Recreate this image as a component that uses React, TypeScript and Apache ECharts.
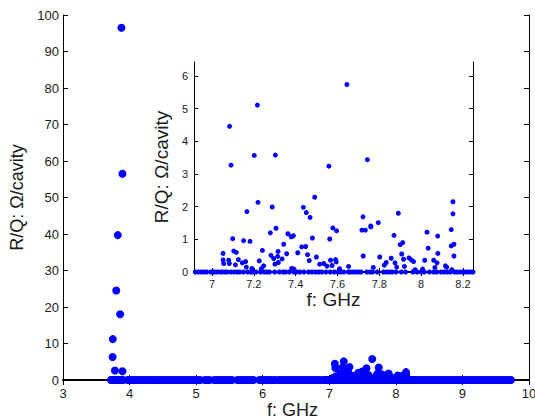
import React, { useEffect, useRef } from "react";
import * as echarts from "echarts";

// ---- data ----
const lowBandPeaks: [number, number][] = [
  [3.748, 11.2], [3.745, 6.3], [3.78, 2.6], [3.8, 24.5], [3.823, 39.7],
  [3.858, 18.0], [3.878, 96.5], [3.893, 56.5], [3.893, 2.4],
];

const lowBandZeroFreqs: number[] = [
  3.72, 3.73, 3.75, 3.76, 3.78, 3.79, 3.81, 3.83, 3.84, 3.86, 3.87, 3.89, 3.9,
];

const mainZeroFreqs: number[] = [
  3.97, 4.0, 4.03, 4.06, 4.09, 4.12, 4.15, 4.19, 4.22, 4.25, 4.28, 4.31, 4.35, 4.38, 4.41, 4.44,
  4.48, 4.51, 4.54, 4.57, 4.61, 4.64, 4.67, 4.7, 4.74, 4.77, 4.8, 4.83, 4.87, 4.9, 4.93, 4.96,
  5.0, 5.03, 5.06, 5.13, 5.17, 5.2, 5.27, 5.3, 5.33, 5.37, 5.4, 5.44, 5.47, 5.51, 5.54, 5.62,
  5.65, 5.69, 5.72, 5.76, 5.79, 5.83, 5.86, 5.95, 5.98, 6.02, 6.05, 6.09, 6.12, 6.16, 6.19,
  6.24, 6.27, 6.31, 6.35, 6.38, 6.42, 6.45, 6.49, 6.52, 6.56, 6.59, 6.63, 6.66, 6.7, 6.73,
  6.77, 6.8, 6.84, 6.87,
  8.28, 8.31, 8.35, 8.38, 8.42, 8.45, 8.49, 8.52, 8.56, 8.59, 8.63, 8.66, 8.7, 8.73, 8.77,
  8.8, 8.84, 8.87, 8.91, 8.94, 8.98, 9.01, 9.05, 9.08, 9.12, 9.15, 9.19, 9.22, 9.26, 9.29,
  9.33, 9.36, 9.4, 9.43, 9.47, 9.5, 9.54, 9.57, 9.61, 9.64, 9.68, 9.71, 9.73,
];

const clusterZeroFreqs: number[] = [
  6.92, 6.935, 6.95, 6.962, 6.975, 6.995, 7.005, 7.012, 7.025, 7.04, 7.05, 7.062, 7.072, 7.09,
  7.105, 7.12, 7.132, 7.15, 7.17, 7.185, 7.195, 7.21, 7.232, 7.25, 7.262, 7.275, 7.3, 7.322,
  7.34, 7.352, 7.37, 7.392, 7.405, 7.42, 7.44, 7.462, 7.478, 7.495, 7.51, 7.525, 7.545, 7.565,
  7.585, 7.602, 7.615, 7.63, 7.652, 7.662, 7.675, 7.688, 7.7, 7.712, 7.74, 7.755, 7.768, 7.79,
  7.82, 7.835, 7.848, 7.862, 7.88, 7.905, 7.925, 7.96, 7.98, 8.0, 8.015, 8.04, 8.06, 8.075,
  8.095, 8.11, 8.125, 8.14, 8.16, 8.172, 8.185, 8.198, 8.21, 8.222, 8.235, 8.248,
];

const clusterModes: [number, number][] = [
  [7.084, 4.46], [7.091, 3.27], [7.099, 1.02], [7.053, 0.57], [7.053, 0.37], [7.056, 0.26],
  [7.08, 0.36], [7.083, 0.26], [7.104, 0.64], [7.116, 0.6], [7.112, 0.22], [7.126, 0.38],
  [7.145, 0.28], [7.151, 0.96], [7.161, 0.32], [7.167, 1.85], [7.182, 0.94], [7.164, 0.15],
  [7.191, 0.11], [7.202, 3.57], [7.217, 5.11], [7.22, 2.13], [7.226, 0.34], [7.241, 0.66],
  [7.236, 0.1], [7.247, 0.19], [7.279, 1.2], [7.288, 1.99], [7.282, 0.51], [7.295, 0.41],
  [7.306, 1.34], [7.303, 3.58], [7.314, 0.48], [7.316, 0.63], [7.317, 0.29], [7.301, 0.24],
  [7.335, 0.4], [7.343, 0.85], [7.357, 0.56], [7.363, 1.17], [7.379, 1.08], [7.389, 1.11],
  [7.381, 0.11], [7.392, 0.09], [7.41, 0.59], [7.429, 0.77], [7.437, 1.98], [7.448, 0.78],
  [7.451, 1.82], [7.457, 0.53], [7.465, 0.35], [7.469, 1.67], [7.48, 1.04], [7.491, 2.29],
  [7.499, 0.46], [7.515, 0.24], [7.534, 0.26], [7.55, 0.18], [7.559, 3.24], [7.563, 1.01],
  [7.567, 0.36], [7.578, 1.35], [7.596, 1.26], [7.591, 0.38], [7.594, 0.31], [7.574, 0.2],
  [7.61, 0.1], [7.645, 5.74], [7.653, 0.17], [7.717, 1.28], [7.722, 1.69], [7.723, 0.49],
  [7.733, 1.28], [7.743, 3.44], [7.759, 1.41], [7.76, 1.38], [7.771, 0.14], [7.795, 1.51],
  [7.802, 0.46], [7.824, 0.21], [7.833, 0.29], [7.857, 0.42], [7.87, 1.12], [7.875, 0.28],
  [7.883, 0.15], [7.891, 1.8], [7.9, 0.84], [7.907, 0.55], [7.912, 0.9], [7.916, 0.39],
  [7.92, 0.17], [7.942, 0.43], [7.953, 0.37], [7.964, 0.32], [7.971, 0.07], [8.007, 0.09],
  [8.017, 0.36], [8.028, 1.22], [8.034, 0.73], [8.06, 0.36], [8.066, 0.14], [8.076, 0.28],
  [8.079, 1.1], [8.08, 0.57], [8.116, 0.19], [8.122, 0.15], [8.144, 1.3], [8.152, 2.15],
  [8.152, 1.78], [8.144, 0.8], [8.157, 0.85], [8.157, 0.49], [8.147, 0.07],
];

const insetXTicks: number[] = [7, 7.2, 7.4, 7.6, 7.8, 8, 8.2];
const insetYTicks: number[] = [0, 1, 2, 3, 4, 5, 6];

const FONT = "Liberation Sans, Arial, Helvetica, sans-serif";
const BLUE = "#0000ff";
const TXT = "#1a1a1a";

export default function App() {
  const ref = useRef<HTMLDivElement>(null);
  useEffect(() => {
    if (!ref.current) return;
    const chart = echarts.init(ref.current, null, { renderer: "svg" });

    const clusterAll: [number, number][] = [
      ...clusterModes,
      ...clusterZeroFreqs.map((f) => [f, 0] as [number, number]),
    ];
    const mainAll: [number, number][] = [
      ...lowBandPeaks,
      ...lowBandZeroFreqs.map((f) => [f, 0] as [number, number]),
      ...mainZeroFreqs.map((f) => [f, 0] as [number, number]),
      ...clusterAll,
    ];

    const line = (w = 1) => ({ show: true, lineStyle: { color: "#000", width: w } });
    const tickIn = (len: number) => ({ show: true, inside: true, length: len, lineStyle: { color: "#000", width: 1 } });

    const mainX = { min: 3, max: 10, interval: 1 };
    const mainY = { min: 0, max: 100, interval: 10 };
    const insX = { min: 6.914, max: 8.248 };
    const insY = { min: 0, max: 6.43 };

    chart.setOption({
      animation: false,
      backgroundColor: "#fff",
      textStyle: { fontFamily: FONT },
      grid: [
        { left: 63, top: 15, right: 6, bottom: 40, show: false, containLabel: false, outerBoundsMode: "none" },
        {
          left: 194, top: 62, right: 62, bottom: 148, show: true, backgroundColor: "#fff", borderWidth: 0, z: 5,
          containLabel: false, outerBoundsMode: "none",
        },
      ],
      xAxis: [
        {
          type: "value", gridIndex: 0, ...mainX, position: "bottom",
          axisLine: line(2), axisTick: tickIn(5), splitLine: { show: false },
          axisLabel: { color: TXT, fontSize: 13, margin: 7, fontFamily: FONT },
          name: "f: GHz", nameLocation: "middle", nameGap: 21, nameMoveOverlap: false,
          nameTextStyle: { color: TXT, fontSize: 18, fontFamily: FONT, padding: [0, 7, 0, 0] },
        },
        {
          type: "value", gridIndex: 0, ...mainX, position: "top",
          axisLine: line(1), axisTick: tickIn(5), splitLine: { show: false }, axisLabel: { show: false },
        },
        {
          type: "value", gridIndex: 1, ...insX, position: "bottom", z: 6,
          axisLine: line(2), splitLine: { show: false },
          axisTick: { ...tickIn(4), customValues: insetXTicks },
          axisLabel: {
            color: TXT, fontSize: 11, margin: 6, fontFamily: FONT, customValues: insetXTicks,
            formatter: (v: number) => String(Number(v.toFixed(1))),
          },
          name: "f: GHz", nameLocation: "middle", nameGap: 16,
          nameTextStyle: { color: TXT, fontSize: 19, fontFamily: FONT },
        },
        {
          type: "value", gridIndex: 1, ...insX, position: "top", z: 6,
          axisLine: line(1), splitLine: { show: false }, axisLabel: { show: false },
          axisTick: { ...tickIn(4), customValues: insetXTicks },
        },
      ],
      yAxis: [
        {
          type: "value", gridIndex: 0, ...mainY, position: "left",
          axisLine: line(1), axisTick: tickIn(5), splitLine: { show: false },
          axisLabel: { color: TXT, fontSize: 13, margin: 4, fontFamily: FONT },
          name: "R/Q: Ω/cavity", nameLocation: "middle", nameGap: 37,
          nameTextStyle: { color: TXT, fontSize: 18, fontFamily: FONT },
        },
        {
          type: "value", gridIndex: 0, ...mainY, position: "right",
          axisLine: line(1), axisTick: tickIn(5), splitLine: { show: false }, axisLabel: { show: false },
        },
        {
          type: "value", gridIndex: 1, ...insY, position: "left", z: 6,
          axisLine: line(1), splitLine: { show: false },
          axisTick: { ...tickIn(4), customValues: insetYTicks },
          axisLabel: { color: TXT, fontSize: 11, margin: 6, fontFamily: FONT, customValues: insetYTicks },
          name: "R/Q: Ω/cavity", nameLocation: "middle", nameGap: 9,
          nameTextStyle: { color: TXT, fontSize: 19, fontFamily: FONT },
        },
        {
          type: "value", gridIndex: 1, ...insY, position: "right", z: 6,
          axisLine: line(1), splitLine: { show: false }, axisLabel: { show: false },
          axisTick: { ...tickIn(4), customValues: insetYTicks },
        },
      ],
      series: [
        {
          type: "scatter", xAxisIndex: 0, yAxisIndex: 0, data: mainAll,
          symbol: "circle", symbolSize: 8, itemStyle: { color: BLUE, opacity: 1 }, clip: false, z: 2,
          silent: true,
        },
        {
          type: "scatter", xAxisIndex: 2, yAxisIndex: 2, data: clusterAll,
          symbol: "circle", symbolSize: 5, itemStyle: { color: BLUE, opacity: 1 }, clip: false, z: 7,
          silent: true,
        },
      ],
    });
    return () => chart.dispose();
  }, []);
  return <div ref={ref} style={{ width: 535, height: 420, position: "absolute", left: 0, top: 0 }} />;
}
